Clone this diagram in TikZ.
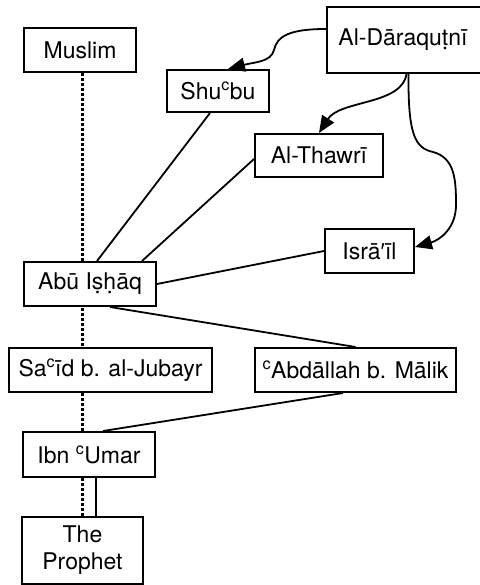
\documentclass[tikz,border=0pt]{standalone}
\usepackage{fontspec}
\setmainfont{TeX Gyre Heros}
\newfontfamily\primefont{Liberation Sans}
\usetikzlibrary{arrows.meta,backgrounds}
\begin{document}
\begin{tikzpicture}[x=1pt,y=-1pt,
  box/.style={draw,line width=2pt,fill=white,inner sep=0pt,align=center,
    font=\fontsize{23}{27}\selectfont},
  link/.style={line width=1.8pt},
  arr/.style={line width=1.8pt,-{Triangle[length=17pt,width=14pt]}},
  dotline/.style={line width=3pt,dash pattern=on 2.6pt off 2.4pt}]
\useasboundingbox (0,0) rectangle (479,585);
\node[box,minimum width=112pt,minimum height=44pt] (muslim) at (80,50) {Muslim};
\node[box,minimum width=155pt,minimum height=66pt,anchor=west] (dar) at (326,40) {\hspace*{-2pt}Al-Dāraquṭnī\hspace*{1pt}};
\node[box,minimum width=102pt,minimum height=42pt] (shu) at (218,91) {Shu\textsuperscript{c}bu};
\node[box,minimum width=128pt,minimum height=43pt] (thawri) at (319,155.5) {Al-Thawrī};
\node[box,minimum width=89pt,minimum height=44pt] (isr) at (369.5,251) {Isrā{\primefont ′}īl};
\node[box,minimum width=132pt,minimum height=44pt] (abu) at (90,284) {Abū Iṣḥāq};
\node[box,minimum width=203pt,minimum height=44pt] (said) at (110.5,370) {Sa\textsuperscript{c}īd b. al-Jubayr};
\node[box,minimum width=201pt,minimum height=44pt] (abd) at (355.5,370) {\textsuperscript{c}Abdāllah b. Mālik};
\node[box,minimum width=132pt,minimum height=45pt] (umar) at (89,454.5) {Ibn \textsuperscript{c}Umar};
\node[box,minimum width=121pt,minimum height=67pt] (proph) at (82.5,550.5) {The\\Prophet};
\begin{scope}[on background layer]
\draw[dotline] ([xshift=2pt]muslim.south) -- ([xshift=-0.5pt]proph.north);
\end{scope}
\draw[link] ([xshift=7pt]umar.south) -- ([xshift=13.5pt]proph.north);
\draw[link] ([xshift=-8pt]shu.south) -- ([xshift=7pt]abu.north);
\draw[link] ([yshift=-3.5pt]thawri.west) -- ([xshift=52pt]abu.north);
\draw[link] (isr.west) -- (abu.east);
\draw[link] ([xshift=20pt]abu.south) -- (abd.north);
\draw[link] ([xshift=-12.5pt]abd.south) -- ([xshift=14pt]umar.north);
\draw[arr] ([yshift=11pt]dar.west) .. controls (290,29) and (277,36) .. (274,50)
  .. controls (271,62) and (255,62) .. ([xshift=10pt]shu.north);
\draw[arr] ([xshift=2pt]dar.south) .. controls (402,105) and (340,100) .. (thawri.north);
\draw[arr] ([xshift=4pt]dar.south) .. controls (408,135) and (415,148) .. (433,152)
  .. controls (455,158) and (456,180) .. (456,205)
  .. controls (456,228) and (440,240) .. ([yshift=4pt]isr.east);
\end{tikzpicture}
\end{document}
